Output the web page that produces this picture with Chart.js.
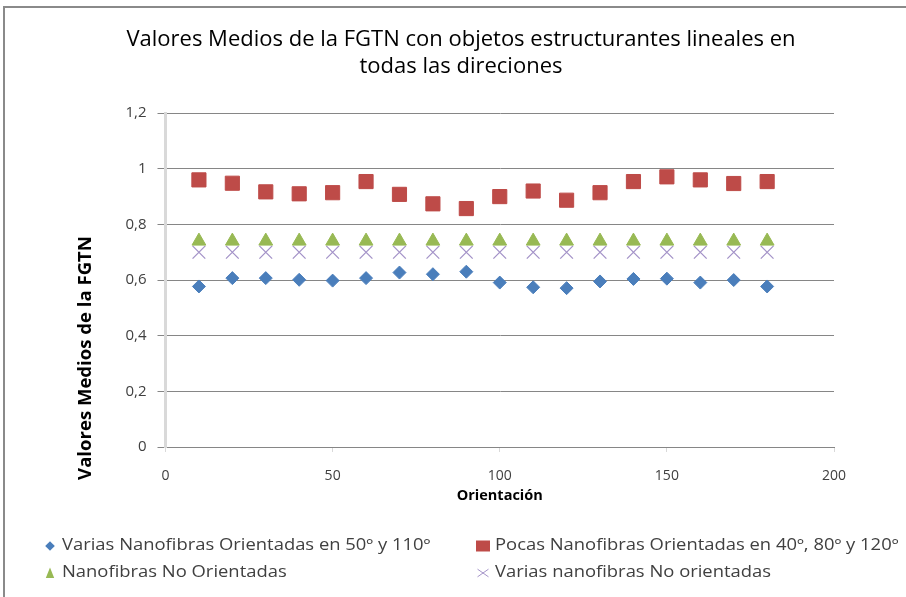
<!DOCTYPE html>
<html>
<head>
<meta charset="utf-8">
<script src="https://cdn.jsdelivr.net/npm/chart.js"></script>
<style>
  html, body { margin: 0; padding: 0; background: #fff; overflow: hidden; }
  #frame { position: absolute; left: 3px; top: 6px; width: 1000px; height: 1000px; border: 2px solid #8a8a8a; }
  #c { position: absolute; left: 0; top: 0; }
</style>
</head>
<body>
<div id="frame"></div>
<canvas id="c" width="906" height="597"></canvas>
<script>
// orientation angles (x)
const orientacion = [10, 20, 30, 40, 50, 60, 70, 80, 90, 100, 110, 120, 130, 140, 150, 160, 170, 180];

// mean FGTN values per series
const variasOrientadas = [0.577, 0.607, 0.607, 0.601, 0.598, 0.607, 0.627, 0.621, 0.630, 0.591, 0.574, 0.571, 0.595, 0.604, 0.605, 0.591, 0.600, 0.577];
const pocasOrientadas = [0.960, 0.948, 0.917, 0.910, 0.914, 0.954, 0.908, 0.874, 0.857, 0.900, 0.920, 0.887, 0.914, 0.954, 0.971, 0.960, 0.947, 0.954];
const noOrientadas = [0.74, 0.74, 0.74, 0.74, 0.74, 0.74, 0.74, 0.74, 0.74, 0.74, 0.74, 0.74, 0.74, 0.74, 0.74, 0.74, 0.74, 0.74];
const variasNoOrientadas = [0.70, 0.70, 0.70, 0.70, 0.70, 0.70, 0.70, 0.70, 0.70, 0.70, 0.70, 0.70, 0.70, 0.70, 0.70, 0.70, 0.70, 0.70];

const seriesNames = [
  'Varias Nanofibras Orientadas en 50º y 110º',
  'Pocas Nanofibras Orientadas en 40º, 80º y 120º',
  'Nanofibras No Orientadas',
  'Varias nanofibras No orientadas'
];
const titleLines = ['Valores Medios de la FGTN con objetos estructurantes lineales en', 'todas las direciones'];
const xTitle = 'Orientación';
const yTitle = 'Valores Medios de la FGTN';

const toPoints = (vals) => orientacion.map((x, i) => ({ x: x, y: vals[i] }));

// font size that makes text span a given width
function fitSize(ctx, text, weight, family, width) {
  ctx.font = weight + ' 20px ' + family;
  return 20 * width / ctx.measureText(text).width;
}

// custom legend (2 x 2 grid, like the Excel one) + y axis title
const legendGrid = {
  id: 'legendGrid',
  afterDraw(chart) {
    const ctx = chart.ctx;
    const cols = [50, 483];
    const rows = [546, 573];
    const sizes = [4.8, 7, 7, 5.5];
    ctx.save();
    // the Excel legend text is narrow; squeeze it so the first row spans like the original
    ctx.font = '15.5px "Open Sans"';
    const squeeze = (377 + 395) / (ctx.measureText(seriesNames[0]).width + ctx.measureText(seriesNames[1]).width);
    chart.data.datasets.forEach((ds, i) => {
      const x = cols[i % 2];
      const y = rows[Math.floor(i / 2)];
      const r = sizes[i];
      ctx.fillStyle = ds.backgroundColor;
      ctx.strokeStyle = ds.borderColor;
      ctx.lineWidth = 1;
      ctx.beginPath();
      if (ds.pointStyle === 'rectRot') {
        ctx.moveTo(x, y - r); ctx.lineTo(x + r, y); ctx.lineTo(x, y + r); ctx.lineTo(x - r, y);
        ctx.closePath(); ctx.fill();
      } else if (ds.pointStyle === 'rect') {
        ctx.rect(x - r, y - 5.5, 2 * r, 11); ctx.fill();
      } else if (ds.pointStyle === 'triangle') {
        ctx.moveTo(x, y - r * 0.8); ctx.lineTo(x + r * 0.6, y + r * 0.7); ctx.lineTo(x - r * 0.6, y + r * 0.7);
        ctx.closePath(); ctx.fill();
      } else {
        ctx.moveTo(x - r, y - r * 0.7); ctx.lineTo(x + r, y + r * 0.7);
        ctx.moveTo(x + r, y - r * 0.7); ctx.lineTo(x - r, y + r * 0.7);
        ctx.stroke();
      }
      ctx.save();
      ctx.translate(x + 12, y);
      ctx.scale(squeeze, 1);
      ctx.fillStyle = '#404040';
      ctx.font = '15.5px "Open Sans"';
      ctx.textBaseline = 'middle';
      ctx.textAlign = 'left';
      ctx.fillText(ds.label, 0, 0);
      ctx.restore();
    });

    const ySize = fitSize(ctx, yTitle, 'bold', '"Open Sans"', 244);
    ctx.translate(86, 358);
    ctx.rotate(-Math.PI / 2);
    ctx.fillStyle = '#000';
    ctx.font = 'bold ' + ySize.toFixed(2) + 'px "Open Sans"';
    ctx.textAlign = 'center';
    ctx.textBaseline = 'middle';
    ctx.fillText(yTitle, 0, 0);
    ctx.restore();
  }
};

new Chart(document.getElementById('c'), {
  type: 'scatter',
  data: {
    datasets: [
      {
        label: seriesNames[0],
        data: toPoints(variasOrientadas),
        pointStyle: 'rectRot',
        pointRadius: 6.5,
        backgroundColor: '#4a7ebb',
        borderColor: '#4a7ebb',
        borderWidth: 1
      },
      {
        label: seriesNames[1],
        data: toPoints(pocasOrientadas),
        pointStyle: 'rect',
        pointRadius: 10,
        backgroundColor: '#be4b48',
        borderColor: '#be4b48',
        borderWidth: 1
      },
      {
        label: seriesNames[2],
        data: toPoints(noOrientadas),
        pointStyle: 'triangle',
        pointRadius: 8,
        backgroundColor: '#98b954',
        borderColor: '#98b954',
        borderWidth: 1
      },
      {
        label: seriesNames[3],
        data: toPoints(variasNoOrientadas),
        pointStyle: 'crossRot',
        pointRadius: 9,
        backgroundColor: '#a493c8',
        borderColor: '#a493c8',
        borderWidth: 1.3
      }
    ]
  },
  options: {
    responsive: false,
    animation: false,
    devicePixelRatio: 1,
    layout: { padding: { left: 88, right: 72, top: 0, bottom: 90 } },
    plugins: {
      legend: { display: false },
      tooltip: { enabled: false },
      title: {
        display: true,
        text: titleLines,
        color: '#000',
        font: { family: '"Open Sans"', size: 22, weight: 'normal', lineHeight: 1.23 },
        padding: { top: 26, bottom: 33 }
      }
    },
    scales: {
      x: {
        type: 'linear',
        min: 0,
        max: 200,
        afterFit: (s) => { s.height = 60; },
        ticks: { stepSize: 50, color: '#404040', font: { family: '"Open Sans"', size: 14 }, padding: 16 },
        grid: { drawOnChartArea: false, drawTicks: true, tickLength: 5, color: '#d9d9d9' },
        border: { color: '#868686', width: 1 },
        title: {
          display: true,
          text: xTitle,
          color: '#000',
          font: { family: '"Open Sans"', size: 14.5, weight: 'bold' },
          padding: { top: 0, bottom: 2 }
        }
      },
      y: {
        min: 0,
        max: 1.2,
        afterFit: (s) => { s.width = 77.5; },
        ticks: {
          stepSize: 0.2,
          color: '#404040',
          font: { family: '"Open Sans"', size: 15 },
          padding: 11,
          callback: (v) => String(Number(v.toFixed(1))).replace('.', ',')
        },
        grid: { color: '#868686', lineWidth: 1, tickLength: 8 },
        border: { color: '#d9d9d9', width: 3 }
      }
    }
  },
  plugins: [legendGrid]
});
</script>
</body>
</html>
